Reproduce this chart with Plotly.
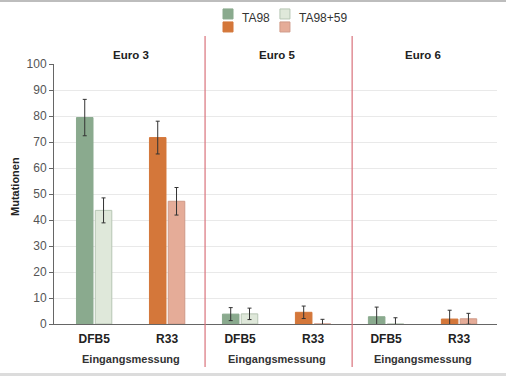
import plotly.graph_objects as go

# ---- data ----
groups = ["Euro 3", "Euro 5", "Euro 6"]
categories = ["DFB5", "R33", "DFB5", "R33", "DFB5", "R33"]
ta98 = [79.4, 71.7, 3.8, 4.5, 2.8, 1.9]
ta98_err = [7.0, 6.3, 2.5, 2.4, 3.7, 3.4]
ta98_59 = [43.7, 47.2, 3.9, 0.0, 0.0, 2.0]
ta98_59_err = [4.8, 5.3, 2.2, 1.8, 2.4, 2.1]
y_ticks = [0, 10, 20, 30, 40, 50, 60, 70, 80, 90, 100]
sub_label = "Eingangsmessung"
y_title = "Mutationen"
legend_labels = ["TA98", "TA98+59"]

# ---- styles ----
col_dark = {"DFB5": "#8aaa8e", "R33": "#d4773a"}
col_light = {"DFB5": "#dfe8da", "R33": "#e5ac98"}
line_light = {"DFB5": "#b7c6b4", "R33": "#cf9a88"}
FONT = "Liberation Sans, Arial, sans-serif"
NARROW = "Liberation Sans Narrow, Arial Narrow, Liberation Sans, sans-serif"

x = list(range(len(categories)))

fig = go.Figure()
fig.add_trace(go.Bar(
    x=x, y=ta98, name=legend_labels[0], offsetgroup="a",
    marker=dict(color=[col_dark[c] for c in categories],
                line=dict(color=[col_dark[c] for c in categories], width=1)),
    error_y=dict(type="data", array=ta98_err, visible=True, color="#333333", thickness=1, width=2),
    showlegend=False,
))
fig.add_trace(go.Bar(
    x=x, y=ta98_59, name=legend_labels[1], offsetgroup="b",
    marker=dict(color=[col_light[c] for c in categories],
                line=dict(color=[line_light[c] for c in categories], width=1)),
    error_y=dict(type="data", array=ta98_59_err, visible=True, color="#333333", thickness=1, width=2),
    showlegend=False,
))

shapes = []
annotations = []
# outer frame lines
shapes.append(dict(type="line", xref="paper", yref="paper", x0=-0.13, x1=1.03, y0=1.242, y1=1.242,
                   line=dict(color="#bdbdbd", width=2)))
shapes.append(dict(type="line", xref="paper", yref="paper", x0=-0.13, x1=1.03, y0=-0.194, y1=-0.194,
                   line=dict(color="#dcdcdc", width=3)))
# panel dividers
for xp in [0.341, 0.673]:
    shapes.append(dict(type="line", xref="paper", yref="paper", x0=xp, x1=xp, y0=-0.165, y1=1.108,
                       line=dict(color="#d9737c", width=1.2)))
# group titles and sub labels
for i, g in enumerate(groups):
    cx = 2 * i + 0.5
    annotations.append(dict(x=cx, y=1.0365, xref="x", yref="paper", yanchor="middle",
                            text="<b>%s</b>" % g, showarrow=False,
                            font=dict(family=NARROW, size=11.5, color="#222")))
    annotations.append(dict(x=cx, y=-0.136, xref="x", yref="paper", yanchor="middle",
                            text="<b>%s</b>" % sub_label,
                            showarrow=False, font=dict(family=NARROW, size=11, color="#333")))
# y title
annotations.append(dict(x=-0.088, y=0.527, xref="paper", yref="paper", xanchor="center", yanchor="middle",
                        text="<b>%s</b>" % y_title,
                        textangle=-90, showarrow=False, font=dict(family=NARROW, size=11, color="#222")))
# custom legend
sq_w, sq_h = 0.0226, 0.0385
leg = [(0.3815, 1.1925, col_dark["DFB5"], col_dark["DFB5"]),
       (0.3815, 1.1425, col_dark["R33"], col_dark["R33"]),
       (0.510, 1.1925, col_light["DFB5"], line_light["DFB5"]),
       (0.510, 1.1425, col_light["R33"], line_light["R33"])]
for x0, y0, fc, lc in leg:
    shapes.append(dict(type="rect", xref="paper", yref="paper", x0=x0, x1=x0 + sq_w,
                       y0=y0 - sq_h / 2, y1=y0 + sq_h / 2, fillcolor=fc, line=dict(color=lc, width=1)))
annotations.append(dict(x=0.420, y=1.175, xref="paper", yref="paper", text=legend_labels[0],
                        xanchor="left", yanchor="middle",
                        showarrow=False, font=dict(family=NARROW, size=12, color="#333")))
annotations.append(dict(x=0.5485, y=1.175, xref="paper", yref="paper", text=legend_labels[1],
                        xanchor="left", yanchor="middle",
                        showarrow=False, font=dict(family=NARROW, size=12, color="#333")))

fig.update_layout(
    width=506, height=376,
    margin=dict(l=54, r=9, t=64, b=52),
    paper_bgcolor="white", plot_bgcolor="white",
    barmode="group", bargap=0.485, bargroupgap=0.12,
    shapes=shapes, annotations=annotations,
    font=dict(family=FONT, size=12, color="#555"),
)
fig.update_xaxes(range=[-0.55, 5.52], tickvals=x, ticktext=["<b>%s</b>" % c for c in categories],
                 tickfont=dict(family=NARROW, size=12, color="#222"), showgrid=False, zeroline=False,
                 showline=True, linecolor="#666", linewidth=1, ticks="", ticklabelstandoff=4)
fig.update_yaxes(range=[0, 100], tickvals=y_ticks, showgrid=True, gridcolor="#e9e9e9", gridwidth=1,
                 zeroline=False, showline=True, linecolor="#666", linewidth=1, ticks="outside",
                 ticklen=4, tickcolor="#666", tickfont=dict(family=FONT, size=12, color="#555"))

fig.write_html("out.html", config={"displayModeBar": False},
               post_script="document.body.style.margin='0';document.body.style.overflow='hidden';")
